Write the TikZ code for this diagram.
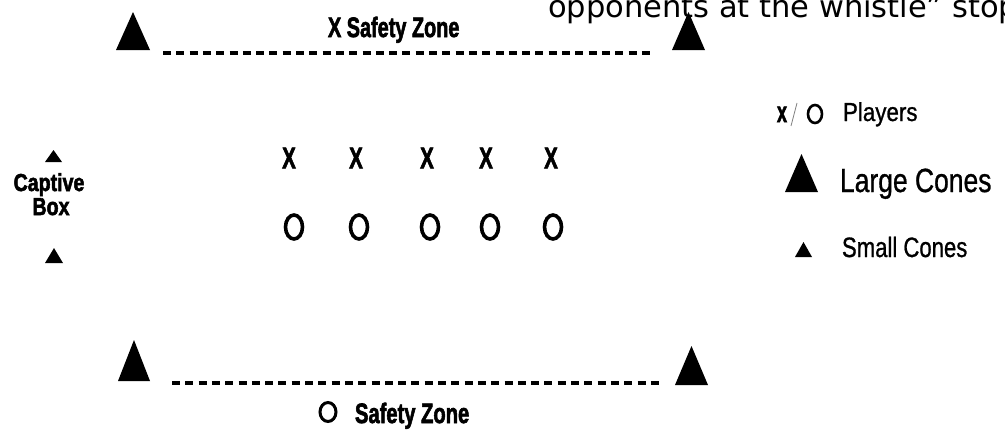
\documentclass[tikz,border=0pt]{standalone}
\usepackage{fontspec}
\setmainfont{Liberation Sans}
\newfontfamily\verd{DejaVu Sans}
\newfontfamily\heavy[BoldFeatures={FakeBold=2.5}]{Liberation Sans}
\newfontfamily\medium[FakeBold=1.0]{Liberation Sans}
\newcommand\sq[3]{\scalebox{#1}[1]{\fontsize{#2}{#2}\selectfont #3}}
\newcommand\conetri[4]{\fill[black] (#1,-#4) -- (#2,-#4) -- ({(#1+#2)/2},-#3) -- cycle;}
\tikzset{
  lab/.style={inner sep=0pt, outer sep=0pt, anchor=base west},
  labc/.style={inner sep=0pt, outer sep=0pt, anchor=base},
  player/.style={draw=black, line width=3.6pt},
  zoneline/.style={line width=4pt, dash pattern=on 8pt off 5.3pt},
}
\begin{document}
\begin{tikzpicture}[x=1pt,y=1pt]
\useasboundingbox (0,0) rectangle (1005,-431);
\clip (0,0) rectangle (1005,-431);
\fill[white] (0,0) rectangle (1005,-431);
% page text cut at the top
\node[lab] (pagetext) at (548,-17) {\verd\fontsize{30.5}{30.5}\selectfont opponents at the whistle” stop};
% large cones
\conetri{116}{150}{12}{50}
\conetri{672}{705}{12}{50}
\conetri{118}{150}{340}{381}
\conetri{675}{708}{346}{385}
% safety zone lines
\coordinate (tl) at (163,-53);
\coordinate (tr) at (653,-53);
\coordinate (bl) at (172,-383);
\coordinate (br) at (663,-383);
\draw[zoneline] (tl) -- (tr);
\draw[zoneline] (bl) -- (br);
\node[lab] (xzone) at (328,-37) {\sq{0.71}{28}{\heavy\bfseries X Safety Zone}};
\draw[player, line width=3pt] (328,-412) ellipse [x radius=8, y radius=9.5];
\node[lab] (ozone) at (355,-423) {\sq{0.72}{28}{\heavy\bfseries Safety Zone}};
% captive box
\conetri{45}{62}{150}{162}
\conetri{45}{63}{248}{263}
\node[labc] (captive) at (49,-191) {\sq{0.8}{24.5}{\heavy\bfseries Captive}};
\node[labc] (box) at (51,-215) {\sq{0.8}{24.5}{\heavy\bfseries Box}};
% players
\foreach \n/\xx in {1/289,2/356,3/427,4/486,5/551}
  \node[inner sep=0pt] (x\n) at (\xx,-158) {\sq{0.68}{30}{\heavy\bfseries X}};
\foreach \n/\xx in {1/294,2/359,3/430,4/490,5/553}
  \draw[player] (\xx,-227) ellipse [x radius=8.5, y radius=12];
% legend
\node[lab] (lx) at (777,-122) {\sq{0.62}{29}{\heavy\bfseries x}};
\draw[gray, line width=0.8pt] (797,-103) -- (791,-126);
\draw[player, line width=2.6pt] (815,-114) ellipse [x radius=7, y radius=9];
\node[lab] (players) at (843,-121) {\sq{0.86}{26}{\medium Players}};
\conetri{785}{818}{154}{192}
\node[lab] (large) at (840,-192) {\sq{0.79}{33.5}{\medium Large Cones}};
\conetri{795}{812}{242}{257}
\node[lab] (small) at (842,-257) {\sq{0.79}{28}{\medium Small Cones}};
\end{tikzpicture}
\end{document}
